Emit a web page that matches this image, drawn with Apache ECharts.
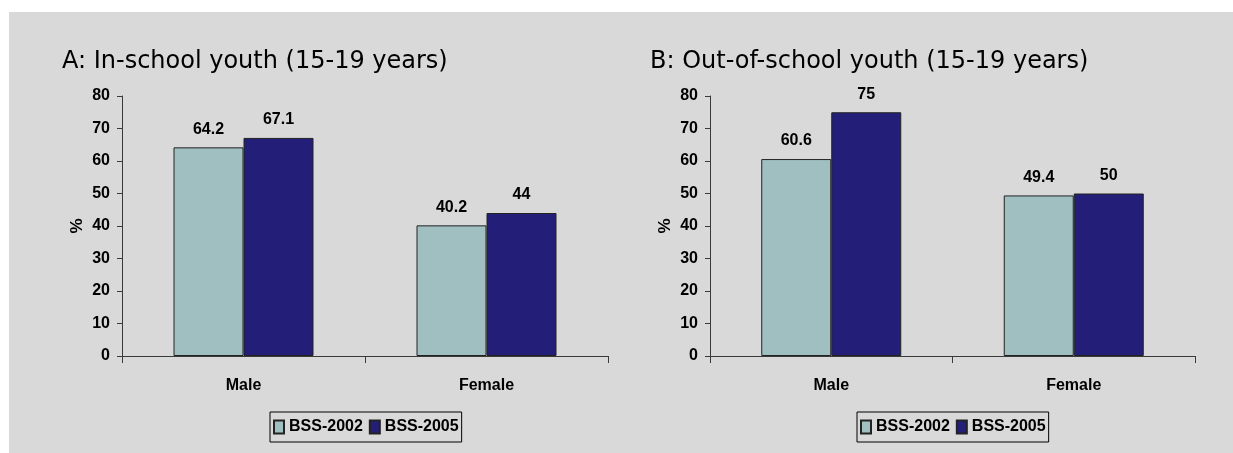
<!DOCTYPE html>
<html><head><meta charset="utf-8">
<script src="https://cdn.jsdelivr.net/npm/echarts@6/dist/echarts.min.js"></script>
<style>html,body{margin:0;padding:0;background:#fff}#c{width:1233px;height:453px}</style>
</head><body><div id="c"></div>
<script>
const categories = ['Male', 'Female'];
const seriesNames = ['BSS-2002', 'BSS-2005'];
const inSchool2002 = [64.2, 40.2];
const inSchool2005 = [67.1, 44];
const outSchool2002 = [60.6, 49.4];
const outSchool2005 = [75, 50];
const yTicks = {min: 0, max: 80, interval: 10};
const titleA = 'A: In-school youth (15-19 years)';
const titleB = 'B: Out-of-school youth (15-19 years)';

const NARROW = '"Liberation Sans Narrow","Arial Narrow","Liberation Sans",Arial,sans-serif';
const colors = ['#A0BFC1', '#231F78'];
const axisColor = '#3a3a3a';

function xAxis(gi) {
  return {
    type: 'category', gridIndex: gi, data: categories, boundaryGap: true,
    axisLine: {lineStyle: {color: axisColor, width: 1}},
    axisTick: {show: true, length: 7, lineStyle: {color: axisColor}},
    axisLabel: {margin: 22, color: '#000', fontFamily: NARROW, fontWeight: 'bold', fontSize: 16}
  };
}
function yAxis(gi, gap) {
  return {
    type: 'value', gridIndex: gi, min: yTicks.min, max: yTicks.max, interval: yTicks.interval,
    name: '%', nameLocation: 'middle', nameRotate: 90, nameGap: gap,
    nameTextStyle: {color: '#000', fontFamily: NARROW, fontWeight: 'bold', fontSize: 17},
    axisLine: {show: true, lineStyle: {color: axisColor, width: 1}},
    axisTick: {show: true, length: 5, lineStyle: {color: axisColor}},
    splitLine: {show: false},
    axisLabel: {margin: 12, color: '#000', fontFamily: NARROW, fontWeight: 'bold', fontSize: 16}
  };
}
function bar(name, data, gi, ci) {
  return {
    name: name, type: 'bar', xAxisIndex: gi, yAxisIndex: gi, data: data,
    barWidth: 70, barGap: '0%',
    itemStyle: {color: colors[ci], borderColor: '#222', borderWidth: 1},
    label: {show: true, position: 'top', distance: 10, color: '#000',
      fontFamily: NARROW, fontWeight: 'bold', fontSize: 16},
    emphasis: {disabled: true}, animation: false
  };
}
function legend(left) {
  return {
    data: seriesNames.map(n => ({name: n, icon: 'rect'})), left: left, top: 412, orient: 'horizontal',
    itemWidth: 10, itemHeight: 13, itemGap: 6, padding: [7, 3],
    borderColor: '#000', borderWidth: 1, backgroundColor: '#D9D9D9',
    selectedMode: false,
    textStyle: {color: '#000', fontFamily: NARROW, fontWeight: 'bold', fontSize: 16}
  };
}

const TITLEFONT = '"DejaVu Sans","Liberation Sans",Arial,sans-serif';
const chart = echarts.init(document.getElementById('c'), null, {renderer: 'canvas'});
chart.setOption({
  backgroundColor: '#ffffff',
  animation: false,
  graphic: [{type: 'rect', z: -10, shape: {x: 9, y: 12, width: 1300, height: 500}, style: {fill: '#D9D9D9'}}],
  title: [
    {text: titleA, left: 62, top: 50, padding: 0, textStyle: {fontFamily: TITLEFONT, fontWeight: 'normal', fontSize: 24, color: '#000'}},
    {text: titleB, left: 650, top: 50, padding: 0, textStyle: {fontFamily: TITLEFONT, fontWeight: 'normal', fontSize: 24, color: '#000'}}
  ],
  legend: [legend(270), legend(857)],
  grid: [
    {left: 122, top: 96, width: 486, height: 260},
    {left: 710, top: 96, width: 485, height: 260}
  ],
  xAxis: [xAxis(0), xAxis(1)],
  yAxis: [yAxis(0, 36), yAxis(1, 36)],
  series: [
    bar(seriesNames[0], inSchool2002, 0, 0),
    bar(seriesNames[1], inSchool2005, 0, 1),
    bar(seriesNames[0], outSchool2002, 1, 0),
    bar(seriesNames[1], outSchool2005, 1, 1)
  ]
});
</script></body></html>
